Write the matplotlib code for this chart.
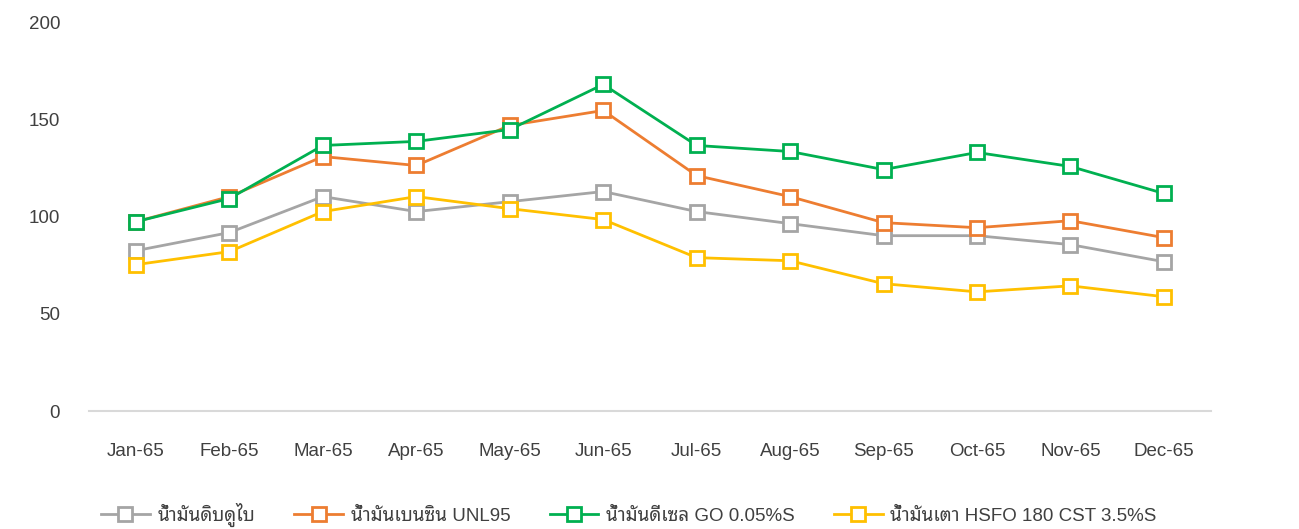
import matplotlib
matplotlib.use("Agg")
import matplotlib.pyplot as plt

months = ["Jan-65", "Feb-65", "Mar-65", "Apr-65", "May-65", "Jun-65",
          "Jul-65", "Aug-65", "Sep-65", "Oct-65", "Nov-65", "Dec-65"]
dubai = [82.5, 91.8, 110.3, 102.6, 107.7, 112.9, 102.6, 96.4, 90.2, 90.2, 85.6, 76.8]
unl95 = [97.4, 110.3, 130.9, 126.3, 146.9, 154.6, 121.1, 110.3, 96.9, 94.3, 97.9, 89.2]
gasoil = [97.4, 109.3, 136.6, 138.7, 144.8, 168.0, 136.6, 133.5, 124.2, 133.0, 125.8, 111.9]
hsfo = [75.3, 82.0, 102.6, 110.3, 104.1, 98.5, 78.9, 77.3, 65.5, 61.3, 64.4, 58.8]
names = ["น้ำมันดิบดูไบ", "น้ำมันเบนซิน UNL95", "น้ำมันดีเซล GO 0.05%S", "น้ำมันเตา HSFO 180 CST 3.5%S"]
colors = ["#A5A5A5", "#ED7D31", "#00B050", "#FFC000"]
yticks = [0, 50, 100, 150, 200]

plt.rcParams["font.family"] = ["Liberation Sans", "Noto Sans Thai Looped", "DejaVu Sans"]

fig = plt.figure(figsize=(12.99, 5.29), dpi=100)
ax = fig.add_axes([0.0687, 0.223, 0.8633, 0.735])
x = list(range(len(months)))
for vals, name, c in zip([dubai, unl95, gasoil, hsfo], names, colors):
    ax.plot(x, vals, color=c, lw=2.0, marker="s", markersize=10,
            markerfacecolor="white", markeredgecolor=c, markeredgewidth=2.0, label=name)
ax.set_xlim(-0.5, 11.5)
ax.set_ylim(0, 200)
ax.set_yticks(yticks)
ax.set_xticks(x)
ax.set_xticklabels(months)
for s in ["top", "right", "left"]:
    ax.spines[s].set_visible(False)
ax.spines["bottom"].set_color("#D9D9D9")
ax.spines["bottom"].set_linewidth(1.5)
ax.tick_params(axis="both", length=0, labelsize=13.5, colors="#404040")
ax.tick_params(axis="y", pad=21)
ax.tick_params(axis="x", pad=23)
leg = fig.legend(loc="center", bbox_to_anchor=(0.484, 0.027), ncol=4, frameon=False,
                 fontsize=13.5, handlelength=2.6, handletextpad=0.4, columnspacing=2.1,
                 labelcolor="#404040")
fig.savefig("out.png", dpi=100)
